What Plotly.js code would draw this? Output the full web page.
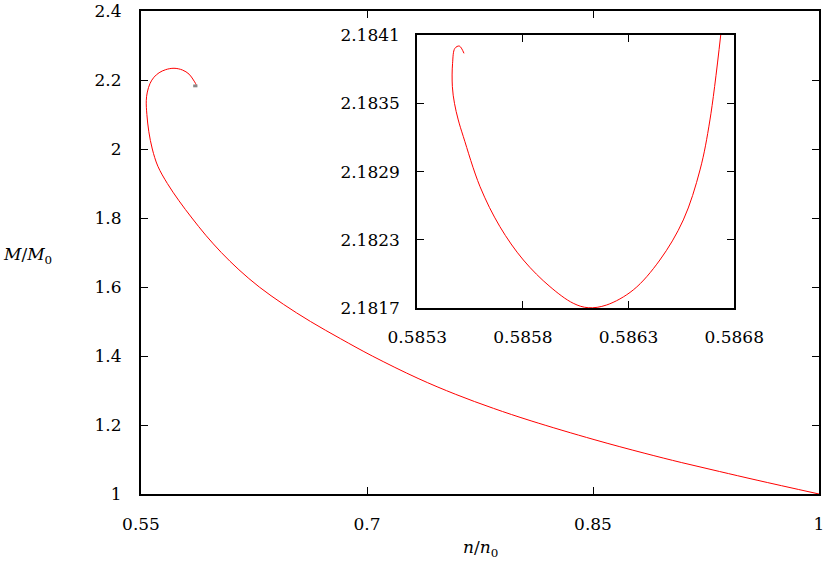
<!DOCTYPE html>
<html>
<head>
<meta charset="utf-8">
<script src="https://cdn.plot.ly/plotly-3.0.1.min.js"></script>
<style>html,body{margin:0;padding:0;background:#fff;}</style>
</head>
<body>
<div id="chart" style="width:828px;height:571px;"></div>
<script>
// main branch of the curve, from n/n0 = 1 back to the spiral
const mainN = [1.0, 0.9589, 0.9339, 0.9089, 0.8839, 0.8507, 0.8089, 0.7839, 0.7589, 0.7339,
    0.7035, 0.6825, 0.6625, 0.6445, 0.6285, 0.6150, 0.6033, 0.5930, 0.5838, 0.5752,
    0.5675, 0.5612, 0.5575, 0.5552, 0.5539, 0.5535, 0.5542, 0.5560, 0.5586, 0.5620,
    0.5664, 0.5719, 0.5775, 0.5819, 0.5848, 0.5862, 0.58668, 0.58676];
const mainM = [1.0, 1.040, 1.0653, 1.091, 1.1185, 1.1577, 1.212, 1.2483, 1.2888, 1.335,
    1.40, 1.45, 1.50, 1.55, 1.60, 1.65, 1.70, 1.75, 1.80, 1.85,
    1.90, 1.95, 2.0, 2.05, 2.1, 2.14, 2.165, 2.19, 2.208, 2.221,
    2.230, 2.234, 2.229, 2.217, 2.200, 2.190, 2.1855, 2.1846];

// tail of the spiral (the part seen in the inset)
const tailN = [0.586736, 0.586685, 0.586638, 0.586559, 0.586448, 0.586322, 0.586196, 0.586109,
    0.586038, 0.585928, 0.585802, 0.585691, 0.585597, 0.585518, 0.585494, 0.585476,
    0.585466, 0.585467, 0.585478, 0.585499, 0.585521];
const tailM = [2.1841, 2.183354, 2.182915, 2.182476, 2.182124, 2.181861, 2.181729, 2.181705,
    2.181744, 2.181890, 2.182124, 2.182417, 2.182768, 2.183207, 2.183354, 2.183500,
    2.183646, 2.183851, 2.183983, 2.184003, 2.183939];

const mainXTicks = [0.55, 0.7, 0.85, 1];
const mainXText = ['0.55', '0.7', '0.85', '1'];
const mainYTicks = [1, 1.2, 1.4, 1.6, 1.8, 2, 2.2, 2.4];
const mainYText = ['1', '1.2', '1.4', '1.6', '1.8', '2', '2.2', '2.4'];
const insetXTicks = [0.5853, 0.5858, 0.5863, 0.5868];
const insetYTicks = [2.1817, 2.1823, 2.1829, 2.1835, 2.1841];

const serif = 'DejaVu Serif';
const tickFont = { family: serif, size: 17, color: '#000' };

function axisStyle(extra) {
    return Object.assign({
        showline: true, linecolor: '#000', linewidth: 2, mirror: 'allticks',
        ticks: 'inside', ticklen: 7, tickwidth: 1, tickcolor: '#000',
        showgrid: false, zeroline: false, tickfont: tickFont,
        ticklabelstandoff: 12, fixedrange: true
    }, extra);
}

const data = [
    {
        x: mainN.concat(tailN), y: mainM.concat(tailM),
        type: 'scatter', mode: 'lines',
        line: { color: '#ff0000', width: 1, shape: 'spline', smoothing: 1 },
        xaxis: 'x', yaxis: 'y', hoverinfo: 'skip'
    },
    {
        x: tailN, y: tailM,
        type: 'scatter', mode: 'lines',
        line: { color: '#ff0000', width: 1, shape: 'spline', smoothing: 1 },
        xaxis: 'x2', yaxis: 'y2', hoverinfo: 'skip'
    }
];

const insetX = [insetXTicks[0], insetXTicks[insetXTicks.length - 1]];
const insetY = [insetYTicks[0], insetYTicks[insetYTicks.length - 1]];

const layout = {
    width: 828, height: 571,
    margin: { l: 141, r: 9, t: 11, b: 77 },
    paper_bgcolor: '#fff', plot_bgcolor: '#fff',
    showlegend: false,
    font: { family: serif, size: 17, color: '#000' },
    xaxis: axisStyle({ domain: [0, 1], range: [0.55, 1], tickvals: mainXTicks, ticktext: mainXText, anchor: 'y', ticklabelstandoff: 14 }),
    yaxis: axisStyle({ domain: [0, 1], range: [1, 2.4], tickvals: mainYTicks, ticktext: mainYText, anchor: 'x', ticklabelstandoff: 14 }),
    xaxis2: axisStyle({ domain: [0.4075, 0.875], range: insetX, tickvals: insetXTicks, ticktext: insetXTicks.map(String), anchor: 'y2' }),
    yaxis2: axisStyle({ domain: [0.3845, 0.9503], range: insetY, tickvals: insetYTicks, ticktext: insetYTicks.map(String), anchor: 'x2' }),
    shapes: [{
        type: 'rect', xref: 'x', yref: 'y',
        x0: insetX[0], x1: insetX[1], y0: insetY[0], y1: insetY[1],
        line: { color: '#888', width: 2 }
    }],
    annotations: [
        {
            text: '<i>n</i>/<i>n</i><sub>0</sub>', xref: 'paper', yref: 'paper',
            x: 0.5, y: 0, xanchor: 'center', yanchor: 'middle', yshift: -54,
            showarrow: false, font: { family: serif, size: 17, color: '#000' }
        },
        {
            text: '<i>M</i>/<i>M</i><sub>0</sub>', xref: 'paper', yref: 'paper',
            x: 0, y: 0.4948, xanchor: 'left', yanchor: 'middle', xshift: -140,
            showarrow: false, font: { family: serif, size: 17, color: '#000' }
        }
    ]
};

Plotly.newPlot('chart', data, layout, { displayModeBar: false, staticPlot: true });
</script>
</body>
</html>
